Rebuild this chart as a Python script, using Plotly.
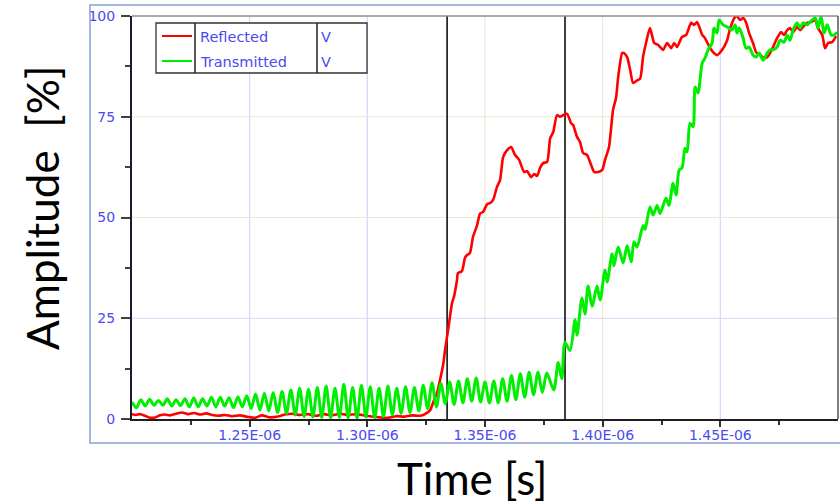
import numpy as np
import plotly.graph_objects as go

NS = 1e-9

# ---- Reflected signal: sample times (ns) and amplitude (%) ----
REFLECTED_T_NS = [
    1200.0, 1201.7, 1203.4, 1205.5, 1207.7, 1209.8, 1211.9, 1214.0, 1216.2, 1218.7,
    1221.3, 1223.8, 1226.4, 1228.9, 1231.5, 1234.0, 1236.6, 1239.5, 1242.5, 1245.9,
    1249.3, 1252.3, 1255.2, 1258.7, 1262.0, 1265.0, 1268.0, 1271.4, 1274.8, 1278.2,
    1281.6, 1285.0, 1288.4, 1291.8, 1295.2, 1298.6, 1302.0, 1305.4, 1308.8, 1312.2,
    1315.6, 1319.0, 1322.4, 1324.5, 1326.7, 1327.9, 1329.6, 1330.9, 1332.2, 1333.0,
    1334.3, 1336.0, 1336.8, 1338.1, 1338.5, 1340.2, 1341.5, 1342.4, 1343.6, 1344.9,
    1346.6, 1347.9, 1349.2, 1350.9, 1352.2, 1353.4, 1355.1, 1356.4, 1357.7, 1359.4,
    1361.1, 1362.8, 1364.5, 1366.6, 1367.9, 1369.6, 1370.9, 1372.1, 1373.4, 1374.7,
    1376.4, 1377.7, 1379.0, 1380.6, 1381.9, 1383.2, 1384.9, 1386.6, 1387.4, 1389.1,
    1390.4, 1391.7, 1393.4, 1395.1, 1396.4, 1398.1, 1399.8, 1401.0, 1402.7, 1404.4,
    1405.7, 1406.6, 1408.3, 1409.1, 1410.4, 1411.7, 1412.9, 1414.6, 1415.9, 1417.2,
    1418.5, 1420.1, 1421.9, 1423.6, 1425.7, 1427.4, 1429.1, 1430.4, 1431.6, 1433.7,
    1435.5, 1437.6, 1438.9, 1440.1, 1442.3, 1443.5, 1445.7, 1447.3, 1448.6, 1450.8,
    1452.9, 1454.2, 1456.3, 1457.1, 1458.4, 1459.7, 1461.0, 1462.2, 1463.9, 1465.2,
    1466.9, 1468.6, 1469.9, 1471.1, 1472.4, 1474.1, 1475.8, 1477.1, 1478.4, 1479.6,
    1480.9, 1482.6, 1483.9, 1485.2, 1486.9, 1488.6, 1490.3, 1491.5, 1493.3, 1494.5,
    1495.8, 1497.5, 1499.2,
]
REFLECTED_PCT = [
    1.2, 1.0, 1.2, 0.8, 0.3, 0.4, 0.9, 1.1, 0.9, 1.3,
    1.6, 1.2, 1.5, 1.1, 1.4, 1.0, 0.8, 1.0, 0.7, 0.9,
    0.5, 0.3, 0.9, 0.4, 0.6, 1.1, 1.3, 1.0, 1.2, 0.8,
    1.2, 0.9, 1.3, 1.0, 1.2, 0.9, 0.6, 0.4, 0.3, 0.7,
    0.6, 0.9, 0.8, 1.2, 2.2, 4.0, 6.4, 9.7, 13.4, 17.0,
    22.0, 28.8, 30.3, 34.5, 36.2, 36.7, 40.0, 40.7, 41.2, 45.2,
    48.0, 51.0, 51.4, 53.3, 53.6, 54.3, 57.6, 59.3, 65.0, 66.7,
    67.5, 65.5, 64.3, 61.3, 61.5, 60.0, 60.8, 60.3, 62.3, 63.5,
    63.8, 69.7, 71.2, 75.4, 75.0, 75.4, 75.7, 73.4, 73.0, 70.0,
    68.7, 66.0, 65.5, 63.0, 61.3, 61.3, 61.8, 64.3, 67.5, 76.7,
    79.7, 84.9, 90.8, 90.8, 89.8, 86.6, 83.4, 84.0, 84.4, 90.0,
    93.5, 97.0, 93.3, 92.8, 91.6, 93.3, 92.0, 93.3, 92.3, 94.8,
    95.3, 98.3, 97.8, 98.5, 95.3, 94.5, 92.0, 90.8, 90.3, 91.6,
    94.0, 97.0, 99.8, 100.0, 99.0, 99.5, 98.3, 95.8, 93.3, 91.0,
    90.3, 89.6, 89.8, 90.8, 92.3, 94.5, 96.0, 95.3, 96.5, 97.0,
    96.0, 97.3, 96.5, 97.3, 98.3, 98.5, 99.0, 97.0, 95.3, 92.0,
    93.3, 93.5, 95.0,
]

# ---- Transmitted signal, baseline part: fixed 1.875 ns sample clock from 1200 ns ----
TRANSMITTED_BASE_START_NS = 1200.0
TRANSMITTED_BASE_STEP_NS = 1.875
TRANSMITTED_BASE_PCT = [
    4.2, 2.8, 4.8, 3.2, 4.9, 3.4, 4.6, 3.4, 5.0, 3.2,
    4.8, 3.3, 5.0, 3.0, 5.2, 3.0, 5.0, 3.2, 5.4, 3.0,
    5.4, 3.2, 5.3, 2.8, 5.5, 3.0, 5.8, 2.6, 6.2, 2.2,
    6.4, 2.0, 6.6, 1.6, 6.8, 1.4, 7.2, 1.0, 7.6, 0.6,
    7.4, 0.5, 7.8, 0.4, 8.2, 0.3, 7.6, 0.4, 8.6, 0.3,
    7.8, 0.2, 8.4, 0.5, 8.0, 0.3, 7.6, 0.6, 8.2, 1.0,
    7.6, 1.4, 8.0, 1.6, 7.8, 2.0, 8.4, 2.6, 9.0, 3.0,
    8.8, 3.8, 9.2, 3.6, 9.4, 4.0, 10.0, 4.4, 10.2, 4.2,
    9.2, 4.0, 9.4, 4.0, 10.0, 4.4, 10.8, 4.8, 11.2, 5.4,
    11.6, 6.0, 11.6, 6.6, 11.4,
]

# ---- Transmitted signal, rising part: sample times (ns) and amplitude (%) ----
TRANSMITTED_RISE_T_NS = [
    1379.2, 1381.1, 1382.6, 1384.0, 1386.1, 1388.3, 1389.1, 1391.2, 1392.5, 1393.8,
    1395.5, 1397.6, 1398.9, 1401.0, 1401.9, 1404.0, 1404.8, 1406.6, 1408.7, 1410.4,
    1412.1, 1413.3, 1414.6, 1417.2, 1418.0, 1420.1, 1421.4, 1423.1, 1424.4, 1426.9,
    1428.2, 1429.9, 1431.2, 1432.5, 1433.7, 1435.0, 1435.9, 1437.1, 1438.4, 1439.3,
    1440.5, 1442.3, 1443.5, 1444.8, 1446.5, 1447.3, 1448.6, 1449.5, 1451.2, 1452.9,
    1455.0, 1456.3, 1457.1, 1458.0, 1459.7, 1460.9, 1462.2, 1463.9, 1465.2, 1466.5,
    1468.2, 1469.9, 1471.1, 1472.4, 1474.1, 1475.4, 1477.1, 1478.4, 1479.6, 1480.9,
    1482.6, 1483.9, 1485.2, 1486.9, 1488.1, 1490.3, 1491.5, 1492.8, 1494.1, 1495.4,
    1497.1, 1498.4, 1499.6,
]
TRANSMITTED_RISE_PCT = [
    7.2, 14.0, 10.0, 19.0, 17.0, 24.6, 20.8, 30.0, 26.0, 33.0,
    28.0, 33.0, 29.5, 37.0, 34.0, 41.0, 38.0, 42.7, 38.7, 43.0,
    39.0, 44.0, 42.7, 48.0, 47.0, 52.6, 50.6, 53.0, 51.0, 54.8,
    53.0, 58.5, 55.6, 61.8, 62.3, 67.2, 66.3, 73.4, 72.5, 82.4,
    80.9, 88.3, 89.6, 91.6, 93.3, 97.0, 95.8, 99.0, 97.8, 97.3,
    96.5, 97.8, 95.8, 97.0, 94.5, 92.0, 92.3, 90.3, 89.8, 90.8,
    89.0, 90.8, 91.6, 91.6, 92.3, 94.0, 93.5, 95.3, 94.0, 96.5,
    98.3, 97.0, 98.3, 97.8, 98.5, 99.5, 97.0, 100.0, 95.8, 97.8,
    95.3, 95.3, 96.0,
]

# ---- Axis ticks and cursor markers ----
X_RANGE_NS = [1200, 1500]
X_TICKS_NS = [1250, 1300, 1350, 1400, 1450]
X_TICK_LABELS = ["1.25E-06", "1.30E-06", "1.35E-06", "1.40E-06", "1.45E-06"]
X_MINOR_NS = [1225, 1275, 1325, 1375, 1425, 1475]
Y_TICKS = [0, 25, 50, 75, 100]
Y_TICK_LABELS = ["0", "25", "50", "75", "100"]
Y_MINOR = [12.5, 37.5, 62.5, 87.5]
CURSORS_NS = [1333.9, 1384.0]

SERIES_NAMES = ["Reflected", "Transmitted"]
SERIES_UNITS = ["V", "V"]
SERIES_COLORS = ["#ff0000", "#00ee00"]

# ---- Geometry of the plot frame (pixels) ----
W, H = 840, 503
PL, PR, PT, PB = 132, 838, 16, 419


def fx(px):
    return (px - PL) / (PR - PL)


def fy(py):
    return (PB - py) / (PB - PT)


base_t = TRANSMITTED_BASE_START_NS + TRANSMITTED_BASE_STEP_NS * np.arange(len(TRANSMITTED_BASE_PCT))
trans_t = np.concatenate([base_t, np.array(TRANSMITTED_RISE_T_NS)]) * NS
trans_v = list(TRANSMITTED_BASE_PCT) + list(TRANSMITTED_RISE_PCT)
refl_t = np.array(REFLECTED_T_NS) * NS

fig = go.Figure()
fig.add_trace(go.Scatter(
    x=refl_t, y=REFLECTED_PCT, mode="lines", name=SERIES_NAMES[0],
    line=dict(color=SERIES_COLORS[0], width=2.6, shape="spline", smoothing=0.6),
))
fig.add_trace(go.Scatter(
    x=trans_t, y=trans_v, mode="lines", name=SERIES_NAMES[1],
    line=dict(color=SERIES_COLORS[1], width=3, shape="spline", smoothing=0.8),
))

TICK_FONT = dict(family="DejaVu Sans", size=14, color="#4a4af2")
x_range = [X_RANGE_NS[0] * NS, X_RANGE_NS[1] * NS]

fig.update_layout(
    width=W, height=H, autosize=False,
    margin=dict(l=PL, r=W - PR, t=PT, b=H - PB),
    paper_bgcolor="white", plot_bgcolor="white",
    showlegend=False,
    xaxis=dict(
        range=x_range, showgrid=False, zeroline=False,
        showline=True, linecolor="#1e1e1e", linewidth=1.5,
        tickmode="array", tickvals=[v * NS for v in X_TICKS_NS], ticktext=X_TICK_LABELS,
        ticks="outside", ticklen=6, tickwidth=1.5, tickcolor="#303030",
        tickfont=TICK_FONT, ticklabelstandoff=-4,
        minor=dict(tickmode="array", tickvals=[v * NS for v in X_MINOR_NS],
                   ticks="outside", ticklen=4, tickwidth=1.5, tickcolor="#303030"),
    ),
    xaxis2=dict(
        range=x_range, overlaying="x", anchor="y", side="bottom",
        showgrid=False, zeroline=False, showline=False, showticklabels=False,
        tickmode="array", tickvals=[v * NS for v in X_TICKS_NS],
        ticks="inside", ticklen=7, tickwidth=1.5, tickcolor="#303030",
        minor=dict(tickmode="array", tickvals=[v * NS for v in X_MINOR_NS],
                   ticks="inside", ticklen=4, tickwidth=1.5, tickcolor="#303030"),
    ),
    yaxis=dict(
        range=[0, 100], showgrid=False, zeroline=False,
        showline=True, linecolor="#1a1a30", linewidth=2,
        tickmode="array", tickvals=Y_TICKS, ticktext=Y_TICK_LABELS,
        ticks="outside", ticklen=9, tickwidth=1.5, tickcolor="#404040",
        tickfont=TICK_FONT, ticklabelstandoff=3,
        minor=dict(tickmode="array", tickvals=Y_MINOR,
                   ticks="outside", ticklen=5, tickwidth=1.5, tickcolor="#404040"),
    ),
    yaxis2=dict(
        range=[0, 100], overlaying="y", anchor="x", side="left",
        showgrid=False, zeroline=False, showline=False, showticklabels=False,
        tickmode="array", tickvals=Y_TICKS,
        ticks="inside", ticklen=9, tickwidth=1.5, tickcolor="#404040",
        minor=dict(tickmode="array", tickvals=Y_MINOR,
                   ticks="inside", ticklen=5, tickwidth=1.5, tickcolor="#404040"),
    ),
)

shapes = []
LAVENDER = "#d6d6fa"
BEIGE = "#ebead2"
# vertical grid lines
for v, c in zip(X_TICKS_NS, [LAVENDER, LAVENDER, BEIGE, BEIGE, LAVENDER]):
    shapes.append(dict(type="line", xref="x", yref="paper", x0=v * NS, x1=v * NS, y0=0, y1=1,
                       line=dict(color=c, width=1.2), layer="below"))
# horizontal grid lines
for v, c in zip(Y_TICKS[1:4], [LAVENDER, BEIGE, BEIGE]):
    shapes.append(dict(type="line", xref="paper", yref="y", x0=0, x1=1, y0=v, y1=v,
                       line=dict(color=c, width=1.2), layer="below"))
# top and right frame of the plot area
shapes.append(dict(type="line", xref="paper", yref="paper", x0=0, x1=1, y0=1, y1=1,
                   line=dict(color="#8c8c8c", width=1.5)))
shapes.append(dict(type="line", xref="paper", yref="paper", x0=1, x1=1, y0=0, y1=1,
                   line=dict(color="#555555", width=1.5)))
# cursor lines
for v in CURSORS_NS:
    shapes.append(dict(type="line", xref="x", yref="paper", x0=v * NS, x1=v * NS, y0=0, y1=1,
                       line=dict(color="#111111", width=1.6), layer="between"))
# outer chart border
shapes.append(dict(type="rect", xref="paper", yref="paper",
                   x0=fx(90), x1=fx(845), y0=fy(443), y1=fy(5),
                   line=dict(color="#85a2d2", width=1.5), fillcolor="rgba(0,0,0,0)"))

# legend table
LG_L, LG_R, LG_T, LG_B = 156, 367, 23, 73
LG_DIV1, LG_DIV2 = 195, 317
shapes.append(dict(type="rect", xref="paper", yref="paper",
                   x0=fx(LG_L), x1=fx(LG_R), y0=fy(LG_B), y1=fy(LG_T),
                   line=dict(color="#333333", width=1.3), fillcolor="white"))
for d in (LG_DIV1, LG_DIV2):
    shapes.append(dict(type="line", xref="paper", yref="paper",
                       x0=fx(d), x1=fx(d), y0=fy(LG_B), y1=fy(LG_T),
                       line=dict(color="#222222", width=1.5)))
row_y = [36, 61]
annotations = []
LEG_FONT = dict(family="DejaVu Sans", size=14.5, color="#4a4af2")
for name, unit, color, ry in zip(SERIES_NAMES, SERIES_UNITS, SERIES_COLORS, row_y):
    shapes.append(dict(type="line", xref="paper", yref="paper",
                       x0=fx(162), x1=fx(192), y0=fy(ry), y1=fy(ry),
                       line=dict(color=color, width=2)))
    annotations.append(dict(text=name, xref="paper", yref="paper", x=fx(198), y=fy(ry + 1),
                            xanchor="left", yanchor="middle", showarrow=False, font=LEG_FONT))
    annotations.append(dict(text=unit, xref="paper", yref="paper", x=fx(319), y=fy(ry + 1),
                            xanchor="left", yanchor="middle", showarrow=False, font=LEG_FONT))

TITLE_FONT = dict(family="Lato", size=44, color="#000000")
annotations.append(dict(text="Amplitude\u00a0\u00a0[%]", xref="paper", yref="paper",
                        x=fx(42), y=fy(208), xanchor="center", yanchor="middle",
                        textangle=-90, showarrow=False, font=TITLE_FONT))
annotations.append(dict(text="Time [s]", xref="paper", yref="paper",
                        x=fx(472), y=fy(478), xanchor="center", yanchor="middle",
                        showarrow=False, font=TITLE_FONT))

fig.update_layout(shapes=shapes, annotations=annotations)
fig.write_html("out.html")
